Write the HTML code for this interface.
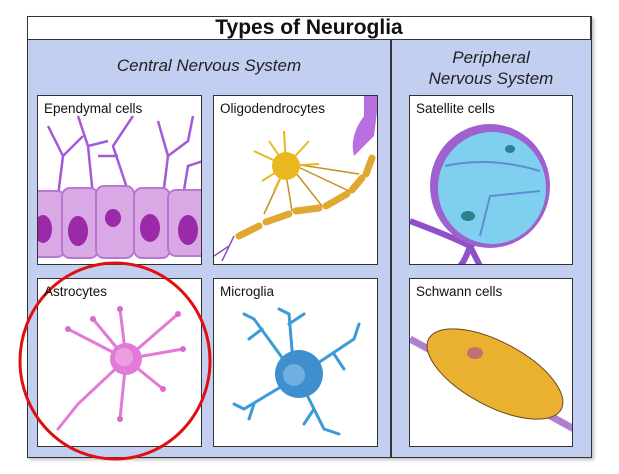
<!DOCTYPE html>
<html><head><meta charset="utf-8"><style>
html,body{margin:0;padding:0;background:#fff;}
body{width:619px;height:474px;position:relative;overflow:hidden;font-family:"Liberation Sans",sans-serif;}
.outer{position:absolute;left:27px;top:16px;width:563px;height:440px;border:1.5px solid #333;background:#c3cff0;box-shadow:2px 2px 3px rgba(0,0,0,0.25);}
.title{position:absolute;left:27px;top:16px;width:564px;height:24px;border:1.5px solid #333;background:#fff;box-sizing:border-box;font-weight:bold;font-size:21px;text-align:center;line-height:22px;color:#111;}
.div{position:absolute;left:390px;top:40px;width:1.5px;height:417px;background:#333;}
.hdr{position:absolute;font-style:italic;font-size:17px;color:#222;text-align:center;line-height:21px;}
.p{position:absolute;background:#fff;border:1.5px solid #333;box-sizing:border-box;overflow:hidden;}
.p span{position:absolute;left:6px;top:5px;font-size:13.5px;color:#111;z-index:2;}
.p svg{position:absolute;left:0;top:0;}
</style></head><body>
<div class="outer"></div>
<div class="title">Types of Neuroglia</div>
<div class="div"></div>
<div class="hdr" style="left:28px;top:55px;width:362px;">Central Nervous System</div>
<div class="hdr" style="left:391px;top:47px;width:200px;">Peripheral<br>Nervous System</div>

<div class="p" style="left:37px;top:95px;width:165px;height:170px;"><span>Ependymal cells</span>
<svg width="165" height="170">
<g stroke="#a35ad8" stroke-width="2.5" fill="none">
<path d="M20 100 L25 60 L10 30 M25 60 L45 40 M55 100 L50 50 L40 20 M50 50 L70 45 M90 95 L75 50 L95 20 M80 60 L60 60 M125 100 L130 60 L120 25 M130 60 L150 45 L155 20 M145 100 L150 70 L165 65"/>
</g>
<g fill="#dba8e6" stroke="#b878d0" stroke-width="2">
<rect x="-8" y="95" width="35" height="66" rx="8"/>
<rect x="24" y="92" width="36" height="70" rx="8"/>
<rect x="58" y="90" width="38" height="72" rx="8"/>
<rect x="96" y="92" width="36" height="70" rx="8"/>
<rect x="130" y="94" width="40" height="66" rx="8"/>
</g>
<g fill="#9b2aa8"><ellipse cx="5" cy="133" rx="9" ry="14"/><ellipse cx="40" cy="135" rx="10" ry="15"/><ellipse cx="75" cy="122" rx="8" ry="9"/><ellipse cx="112" cy="132" rx="10" ry="14"/><ellipse cx="150" cy="134" rx="10" ry="15"/></g>
</svg></div>

<div class="p" style="left:213px;top:95px;width:165px;height:170px;"><span>Oligodendrocytes</span>
<svg width="165" height="170">
<path d="M150 0 L165 0 L160 40 L140 60 Q135 40 150 20Z" fill="#b870e0"/>
<g stroke="#e0a830" stroke-width="7" stroke-linecap="round">
<path d="M25 140 L45 130 M52 126 L75 118 M82 115 L105 112 M112 110 L133 98 M138 94 L148 82 M152 78 L158 62"/>
</g>
<g stroke="#c89020" stroke-width="1.5" fill="none"><path d="M70 75 L50 118 M72 78 L78 115 M78 72 L108 110 M82 70 L135 95 M80 68 L145 78"/>
<path d="M20 140 L8 165 M15 150 L0 160" stroke="#9050c0"/></g>
<g stroke="#e8b820" stroke-width="2"><path d="M72 70 L40 55 M72 70 L55 45 M72 70 L70 35 M72 70 L95 45 M72 70 L105 68 M72 70 L48 85 M72 70 L60 95"/></g>
<circle cx="72" cy="70" r="14" fill="#e8b820"/>
</svg></div>

<div class="p" style="left:409px;top:95px;width:164px;height:170px;"><span>Satellite cells</span>
<svg width="164" height="170">
<path d="M0 125 Q40 140 60 150 L70 170 M60 150 Q55 165 50 170 M60 150 L90 130" stroke="#9050c8" stroke-width="6" fill="none"/>
<ellipse cx="80" cy="90" rx="60" ry="62" fill="#9f60d0"/>
<ellipse cx="82" cy="92" rx="54" ry="56" fill="#7fd0ef"/>
<path d="M35 70 Q80 60 130 75" stroke="#5c8ed0" stroke-width="2" fill="none"/>
<path d="M70 140 L80 100 L130 95" stroke="#5c8ed0" stroke-width="2" fill="none"/>
<ellipse cx="100" cy="53" rx="5" ry="4" fill="#2a8090"/>
<ellipse cx="58" cy="120" rx="7" ry="5" fill="#2a8090"/>
</svg></div>

<div class="p" style="left:37px;top:278px;width:165px;height:169px;"><span>Astrocytes</span>
<svg width="165" height="169">
<g stroke="#e27bd8" stroke-width="3" fill="none" stroke-linecap="round">
<path d="M88 80 L82 30 M88 80 L55 40 M88 80 L30 50 M88 80 L140 35 M88 80 L145 70 M88 80 L125 110 M88 80 L82 140 M88 80 L40 125 L20 150"/>
</g>
<g fill="#d86ccd"><circle cx="82" cy="30" r="3"/><circle cx="55" cy="40" r="3"/><circle cx="30" cy="50" r="3"/><circle cx="140" cy="35" r="3"/><circle cx="145" cy="70" r="3"/><circle cx="125" cy="110" r="3"/><circle cx="82" cy="140" r="3"/></g>
<circle cx="88" cy="80" r="16" fill="#e27bd8"/>
<circle cx="86" cy="78" r="9" fill="#ec9ee3"/>
</svg></div>

<div class="p" style="left:213px;top:278px;width:165px;height:169px;"><span>Microglia</span>
<svg width="165" height="169">
<g stroke="#3c9ad8" stroke-width="3" fill="none" stroke-linecap="round">
<path d="M80 95 L40 40 L30 35 M48 50 L35 60 M80 95 L75 35 L65 30 M75 45 L90 35 M95 90 L140 60 L145 45 M120 75 L130 90 M80 100 L30 130 L20 125 M40 125 L35 140 M90 110 L110 150 L125 155 M100 130 L90 145"/>
</g>
<circle cx="85" cy="95" r="24" fill="#3f8fcf"/>
<circle cx="80" cy="96" r="11" fill="#6fb0e0"/>
</svg></div>

<div class="p" style="left:409px;top:278px;width:164px;height:169px;"><span>Schwann cells</span>
<svg width="164" height="169">
<path d="M0 60 L164 150" stroke="#b080d0" stroke-width="7"/>
<ellipse cx="85" cy="95" rx="75" ry="32" transform="rotate(28 85 95)" fill="#eab030" stroke="#6a4a20" stroke-width="1"/>
<ellipse cx="65" cy="74" rx="8" ry="6" fill="#c07070"/>
</svg></div>

<svg width="619" height="474" style="position:absolute;left:0;top:0;">
<ellipse cx="115" cy="361" rx="95" ry="98" fill="none" stroke="#e01010" stroke-width="3"/>
</svg>
</body></html>
